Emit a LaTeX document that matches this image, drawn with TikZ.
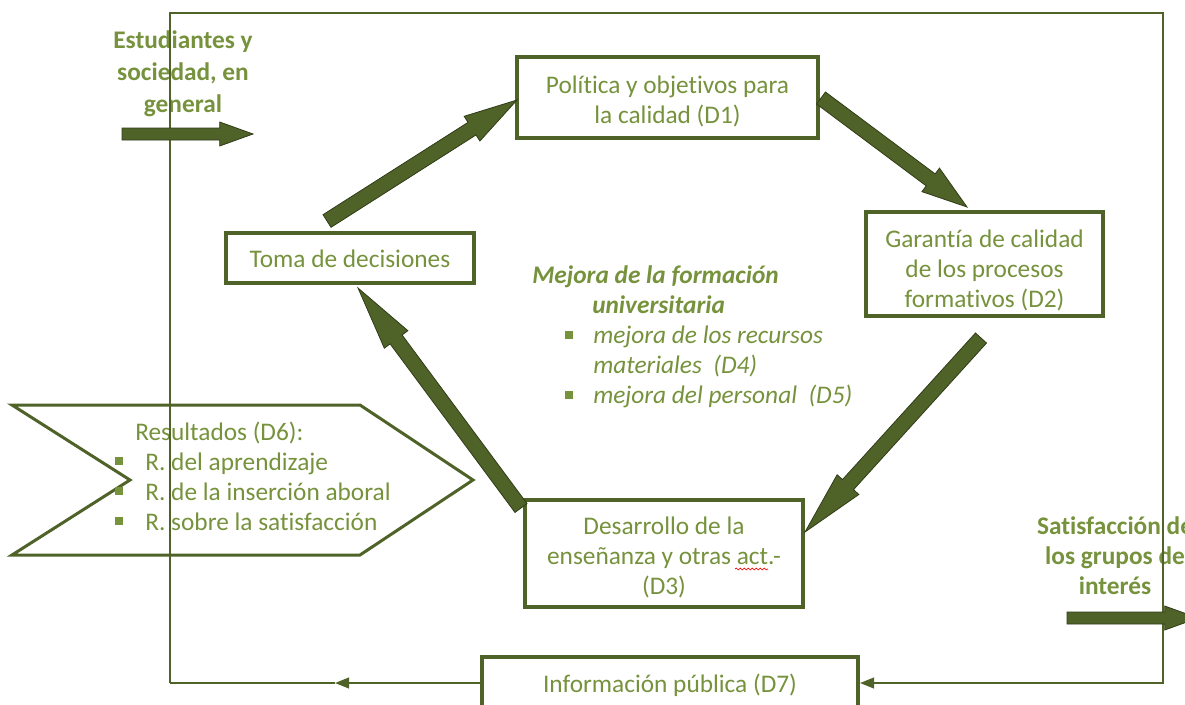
\documentclass[tikz,border=0pt]{standalone}
\usepackage{fontspec}
\setmainfont{Carlito}[Ligatures=NoCommon]
\usetikzlibrary{calc,arrows.meta,decorations.pathmorphing}
\definecolor{txtgreen}{RGB}{118,146,60}
\definecolor{boxgreen}{RGB}{79,98,40}
\definecolor{arrowgreen}{RGB}{79,98,40}
\definecolor{arrowedge}{RGB}{48,60,24}
\newcommand\myblockarrow[5]{%
  \path ($(#2)!#5!(#1)$) coordinate (tmpP);
  \filldraw[bigarrow] ($(#1)!#3!90:(#2)$) -- ($(tmpP)!#3!90:(#2)$) -- ($(tmpP)!#4!90:(#2)$) -- (#2)
    -- ($(tmpP)!#4!-90:(#2)$) -- ($(tmpP)!#3!-90:(#2)$) -- ($(#1)!#3!-90:(#2)$) -- cycle;}
\begin{document}
\begin{tikzpicture}[x=0.75pt,y=-0.75pt,
  box/.style={draw=boxgreen, line width=3pt, fill=white, inner sep=0pt},
  boxtext/.style={text=txtgreen, align=center, inner sep=0pt, font=\fontsize{19}{22.5}\selectfont},
  frame/.style={draw=boxgreen, line width=1.5pt},
  chev/.style={draw=boxgreen, line width=2.25pt, line join=miter},
  bigarrow/.style={fill=arrowgreen, draw=arrowedge, line width=0.6pt, line join=miter},
  lbl/.style={text=txtgreen, inner sep=0pt, font=\fontsize{19}{22.5}\selectfont},
  ilbl/.style={lbl, font=\fontsize{19}{22.5}\selectfont\itshape},
  bilbl/.style={lbl, font=\fontsize{19}{22.5}\selectfont\bfseries\itshape},
  outlbl/.style={text=txtgreen, inner sep=0pt, align=center},
  bulletsq/.style={fill=txtgreen, inner sep=0pt, minimum size=5.5pt},
  thintip/.style={-{Triangle[length=10.5pt,width=8pt]}}]
\clip (0,0) rectangle (1185,704);

% chevron (Resultados)
\draw[chev] (12,405) -- (360,405) -- (473,480) -- (360,555) -- (12,555) -- (130,480) -- cycle;
\node[lbl, anchor=base west] (res) at (135,440) {Resultados (D6):};
\node[bulletsq] (b1) at (119,461) {};
\node[bulletsq] (b2) at (119,491) {};
\node[bulletsq] (b3) at (119,521) {};
\node[lbl, anchor=base west] (r1) at (145,470) {R. del aprendizaje};
\node[lbl, anchor=base west] (r2) at (145,500) {R. de la inserción aboral};
\node[lbl, anchor=base west] (r3) at (145,530) {R. sobre la satisfacción};

% centre text
\node[bilbl, anchor=base west] (m1) at (532,283) {Mejora de la formación};
\node[bilbl, anchor=base west] (m2) at (592,313) {universitaria};
\node[bulletsq] (cb1) at (569,335) {};
\node[bulletsq] (cb2) at (569,395) {};
\node[ilbl, anchor=base west] (m3) at (593,343) {mejora de los recursos};
\node[ilbl, anchor=base west] (m4) at (593,373) {materiales\ \ (D4)};
\node[ilbl, anchor=base west] (m5) at (593,403) {mejora del personal\ \ (D5)};

% outer texts
\node[outlbl, font=\fontsize{19}{24}\selectfont\bfseries] (stud) at (183,74) {Estudiantes y\\sociedad, en\\general};
\node[outlbl, font=\fontsize{19}{22.5}\selectfont\bfseries] (sat) at (1115,556) {Satisfacción de\\los grupos de\\interés};

% boxes
\node[box, minimum width=301*0.75pt, minimum height=81*0.75pt] (d1) at (667.5,97.5) {};
\node[boxtext] (d1t) at (667.5,101) {Política y objetivos para\\la calidad (D1)};
\node[box, minimum width=237*0.75pt, minimum height=104*0.75pt] (d2) at (984.5,264) {};
\node[boxtext] (d2t) at (984.5,270) {Garantía de calidad\\de los procesos\\formativos (D2)};
\node[box, minimum width=248*0.75pt, minimum height=50*0.75pt] (toma) at (350,258) {};
\node[boxtext] (tomat) at (350,259) {Toma de decisiones};
\node[box, minimum width=278*0.75pt, minimum height=107*0.75pt] (d3) at (664,553.5) {};
\node[boxtext] (d3t) at (664,557) {Desarrollo de la\\enseñanza y otras act.-\\(D3)};
\node[box, minimum width=376*0.75pt, minimum height=55*0.75pt] (d7) at (670,684.5) {};
\node[boxtext] (d7t) at (670,685) {Información pública (D7)};
\draw[red, line width=0.5pt, decorate, decoration={snake, amplitude=0.7pt, segment length=3pt}] (735,569) -- (768,569);

% frame
\coordinate (fbl) at (170,683);
\coordinate (ftl) at (170,13);
\coordinate (ftr) at (1163,13);
\coordinate (fbr) at (1163,683);
\coordinate (fmid) at (335,683);
\draw[frame, thintip] (fbl) -- (ftl) -- (ftr) -- (fbr) -- (d7.east |- fbr);
\draw[frame, thintip] (d7.west |- fbl) -- (fmid);
\draw[frame] (fmid) -- (fbl);

% thick arrows
\coordinate (a1s) at (327,221);  \coordinate (a1e) at (517,100);
\coordinate (a2s) at (821,98);   \coordinate (a2e) at (967,207);
\coordinate (a3s) at (981,338);  \coordinate (a3e) at (805,532);
\coordinate (a4s) at (521,508);  \coordinate (a4e) at (358,288);
\coordinate (a5s) at (122,134);  \coordinate (a5e) at (253,134);
\coordinate (a6s) at (1067,618); \coordinate (a6e) at (1198,618);
\myblockarrow{a1s}{a1e}{5.6pt}{11pt}{40pt}
\myblockarrow{a2s}{a2e}{5.6pt}{11pt}{34pt}
\myblockarrow{a3s}{a3e}{5.6pt}{11pt}{48pt}
\myblockarrow{a4s}{a4e}{5.6pt}{11pt}{48pt}
\myblockarrow{a5s}{a5e}{4.5pt}{9pt}{25pt}
\myblockarrow{a6s}{a6e}{4.5pt}{9pt}{25pt}
\end{tikzpicture}
\end{document}
